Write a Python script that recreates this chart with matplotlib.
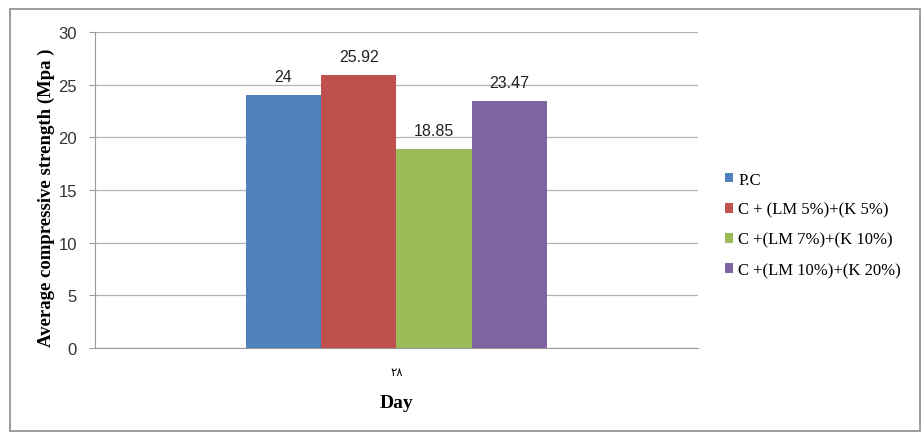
import numpy as np
import matplotlib
matplotlib.use('Agg')
import matplotlib.pyplot as plt
from matplotlib.patches import Rectangle

# data
days = ['\u0662\u0668']  # "28" in Arabic-Indic digits, as printed
series = ['P.C', 'C + (LM 5%)+(K 5%)', 'C +(LM 7%)+(K 10%)', 'C +(LM 10%)+(K 20%)']
strength = [24, 25.92, 18.85, 23.47]
value_labels = ['24', '25.92', '18.85', '23.47']
colors = ['#4F81BD', '#C0504D', '#9BBB59', '#8064A2']

fig = plt.figure(figsize=(9.24, 4.35), dpi=100)
ax = fig.add_axes([0.1028, 0.1977, 0.6526, 0.7264])

# outer chart frame like the excel chart area
fig.patches.append(Rectangle((0.011, 0.007), 0.985, 0.970, transform=fig.transFigure,
                             fill=False, edgecolor='#8c8c8c', linewidth=1.2))

bw = 0.125
x = np.arange(len(days))
for i, (name, val, col) in enumerate(zip(series, strength, colors)):
    off = (i - 1.5) * bw
    bars = ax.bar(x + off, [val], width=bw, color=col, label=name, zorder=3)
    ax.annotate(value_labels[i], (x[0] + off, val), xytext=(0, 8), textcoords='offset points',
                ha='center', va='bottom', fontsize=11.5, family='Liberation Sans', color='#222222')

ax.set_xlim(-0.5, 0.5)
ax.set_ylim(0, 30)
ax.set_yticks(range(0, 31, 5))
ax.set_xticks(x)
ax.set_xticklabels(days, family=['DejaVu Sans'], fontsize=8.5)
ax.yaxis.grid(True, color='#b3b3b3', linewidth=0.9, zorder=0)

for s in ['top', 'right']:
    ax.spines[s].set_visible(False)
ax.spines['left'].set_color('#9a9a9a')
ax.spines['bottom'].set_color('#9a9a9a')
ax.tick_params(axis='y', direction='out', length=4, color='#9a9a9a', labelsize=12, pad=9)
ax.tick_params(axis='x', length=0, pad=12)
for t in ax.get_yticklabels():
    t.set_family('Liberation Sans')
    t.set_color('#333333')

ax.set_ylabel('Average compressive strength (Mpa )', family='Liberation Serif',
              fontweight='bold', fontsize=13.5, labelpad=6)
ax.yaxis.set_label_coords(-0.067, 0.48)
ax.set_xlabel('Day', family='Liberation Serif', fontweight='bold', fontsize=14, labelpad=12)

ax.legend(loc='center left', bbox_to_anchor=(1.02, 0.39), frameon=False,
          prop={'family': 'Liberation Serif', 'size': 12},
          handlelength=0.5, handleheight=0.5, handletextpad=0.3, labelspacing=0.85)

plt.savefig('out.png', dpi=100)
